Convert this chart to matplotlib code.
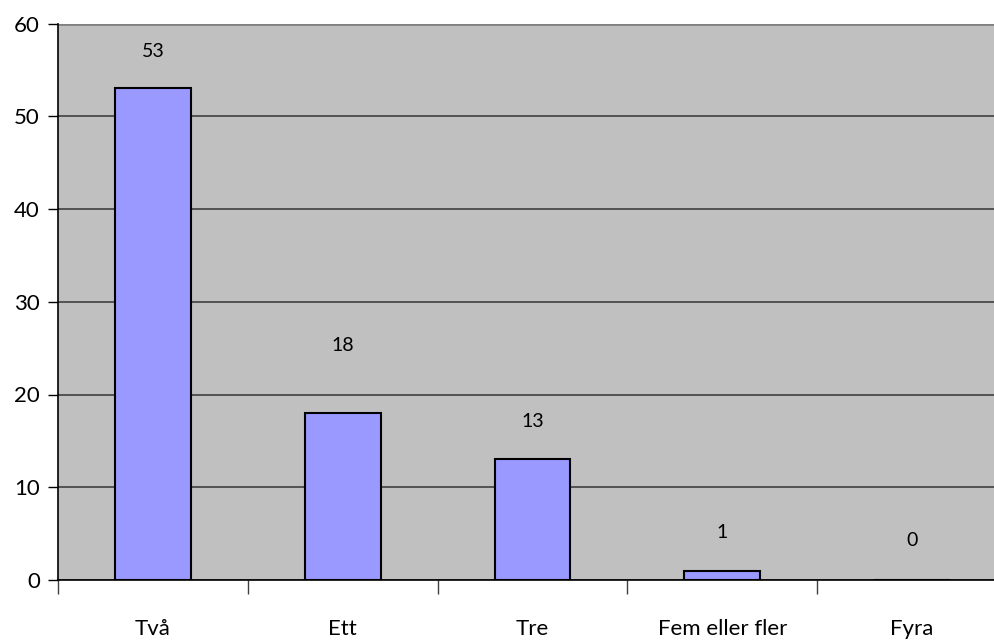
import numpy as np
import matplotlib.pyplot as plt

plt.rcParams['font.family'] = ['Lato', 'DejaVu Sans']

categories = ['Två', 'Ett', 'Tre', 'Fem eller fler', 'Fyra']
values = [53, 18, 13, 1, 0]

fig = plt.figure(figsize=(9.95, 6.43), dpi=100)
ax = fig.add_axes([58 / 995, 63 / 643, 949 / 995, 556.5 / 643])
ax.set_facecolor('#c0c0c0')

x = np.arange(len(categories))
bars = ax.bar(x, values, width=0.4, color='#9999ff', edgecolor='black', linewidth=1.5, zorder=3)

# value labels, offset in pixels above the bar top
offsets = [37, 68, 38, 38, 39]
for xi, v, off in zip(x, values, offsets):
    ax.annotate(str(v), (xi, v), xytext=(0, off * 0.72), textcoords='offset points',
                ha='center', va='center', fontsize=14, color='black')

ax.set_xlim(-0.5, len(categories) - 0.5)
ax.set_ylim(0, 60)
ax.set_yticks(range(0, 61, 10))
ax.yaxis.grid(True, color='#404040', linewidth=1.2, zorder=1)
ax.tick_params(axis='y', length=7, width=1, labelsize=16, pad=6, direction='out')

# category boundaries as major ticks, names on minor ticks
ax.set_xticks(np.arange(-0.5, len(categories), 1.0))
ax.set_xticklabels([])
ax.set_xticks(x, minor=True)
ax.set_xticklabels(categories, minor=True, fontsize=16)
ax.tick_params(axis='x', which='major', length=10, width=1, color='#404040')
ax.tick_params(axis='x', which='minor', length=0, pad=28)

for s in ['top', 'right']:
    ax.spines[s].set_visible(False)
ax.spines['left'].set_linewidth(1.2)
ax.spines['bottom'].set_linewidth(1.2)

# top gridline is lighter
ax.axhline(60, color='#808080', linewidth=2, zorder=2)

fig.savefig('out.png', dpi=100)
